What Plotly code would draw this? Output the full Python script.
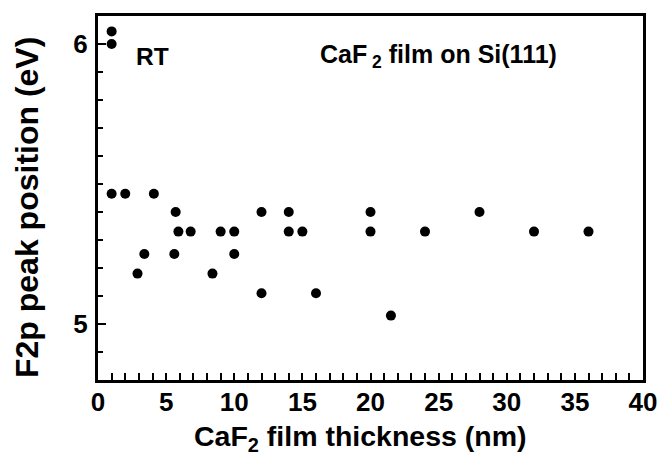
import plotly.graph_objects as go

# Data
thickness_nm = [1, 1, 1, 2, 4.1, 5.7, 12, 14, 20, 28,
                5.9, 6.8, 9, 10, 14, 15, 20, 24, 32, 36,
                3.4, 5.6, 10, 2.9, 8.4, 12, 16, 21.5]
f2p_peak_eV = [6.045, 6.0, 5.465, 5.465, 5.465, 5.4, 5.4, 5.4, 5.4, 5.4,
               5.33, 5.33, 5.33, 5.33, 5.33, 5.33, 5.33, 5.33, 5.33, 5.33,
               5.25, 5.25, 5.25, 5.18, 5.18, 5.11, 5.11, 5.03]

x_ticks = [0, 5, 10, 15, 20, 25, 30, 35, 40]
y_ticks = [5, 6]

FONT = "Liberation Sans, Arial, sans-serif"

fig = go.Figure()
fig.add_trace(go.Scatter(
    x=thickness_nm, y=f2p_peak_eV, mode="markers",
    marker=dict(color="black", size=10, line=dict(width=0)),
    showlegend=False, hoverinfo="x+y",
))

axis_common = dict(
    showline=True, linecolor="black", linewidth=3, mirror=True,
    showgrid=False, zeroline=False, ticks="inside", tickcolor="black",
    tickwidth=1.5,
    tickfont=dict(family=FONT, size=26, color="black", weight="bold"),
)

fig.update_xaxes(
    range=[0, 40], tickvals=x_ticks, ticktext=[f"<b>{v}</b>" for v in x_ticks],
    ticklen=7,
    minor=dict(dtick=1, ticks="inside", ticklen=7, tickcolor="black", tickwidth=1.5),
    ticklabelstandoff=-3,
    **axis_common,
)
fig.update_yaxes(
    range=[4.8, 6.1], tickvals=y_ticks, ticktext=[f"<b>{v}</b>" for v in y_ticks],
    ticklen=8,
    minor=dict(dtick=0.1, ticks="inside", ticklen=5, tickcolor="black", tickwidth=1.5),
    ticklabelstandoff=2,
    **axis_common,
)

PLOT_TOP, PLOT_BOTTOM, PLOT_LEFT, PLOT_RIGHT = 16, 380, 98, 643


def px_to_paper_x(px):
    return (px - PLOT_LEFT) / (PLOT_RIGHT - PLOT_LEFT)


def px_to_paper_y(py):
    return (PLOT_BOTTOM - py) / (PLOT_BOTTOM - PLOT_TOP)


# axis titles
fig.add_annotation(x=px_to_paper_x(360), y=px_to_paper_y(438), xref="paper", yref="paper",
                   text="<b>CaF<sub>2</sub> film thickness (nm)</b>", showarrow=False,
                   xanchor="center", yanchor="middle",
                   font=dict(family=FONT, size=28.5, color="black"))
fig.add_annotation(x=px_to_paper_x(27), y=px_to_paper_y(208), xref="paper", yref="paper",
                   text="<b>F2p peak position (eV)</b>", showarrow=False, textangle=-90,
                   xanchor="center", yanchor="middle",
                   font=dict(family=FONT, size=32, color="black"))

# in-plot labels
fig.add_annotation(x=4.0, y=5.955, xref="x", yref="y", text="<b>RT</b>", showarrow=False,
                   font=dict(family=FONT, size=24.5, color="black"))
fig.add_annotation(x=25.0, y=5.958, xref="x", yref="y",
                   text="<b>CaF<sub> 2</sub> film on Si(111)</b>", showarrow=False,
                   font=dict(family=FONT, size=25, color="black"))

fig.update_layout(
    width=661, height=461,
    margin=dict(l=PLOT_LEFT, r=661 - PLOT_RIGHT, t=PLOT_TOP, b=461 - PLOT_BOTTOM,
                autoexpand=False),
    paper_bgcolor="white", plot_bgcolor="white",
)

fig.write_html("out.html")
